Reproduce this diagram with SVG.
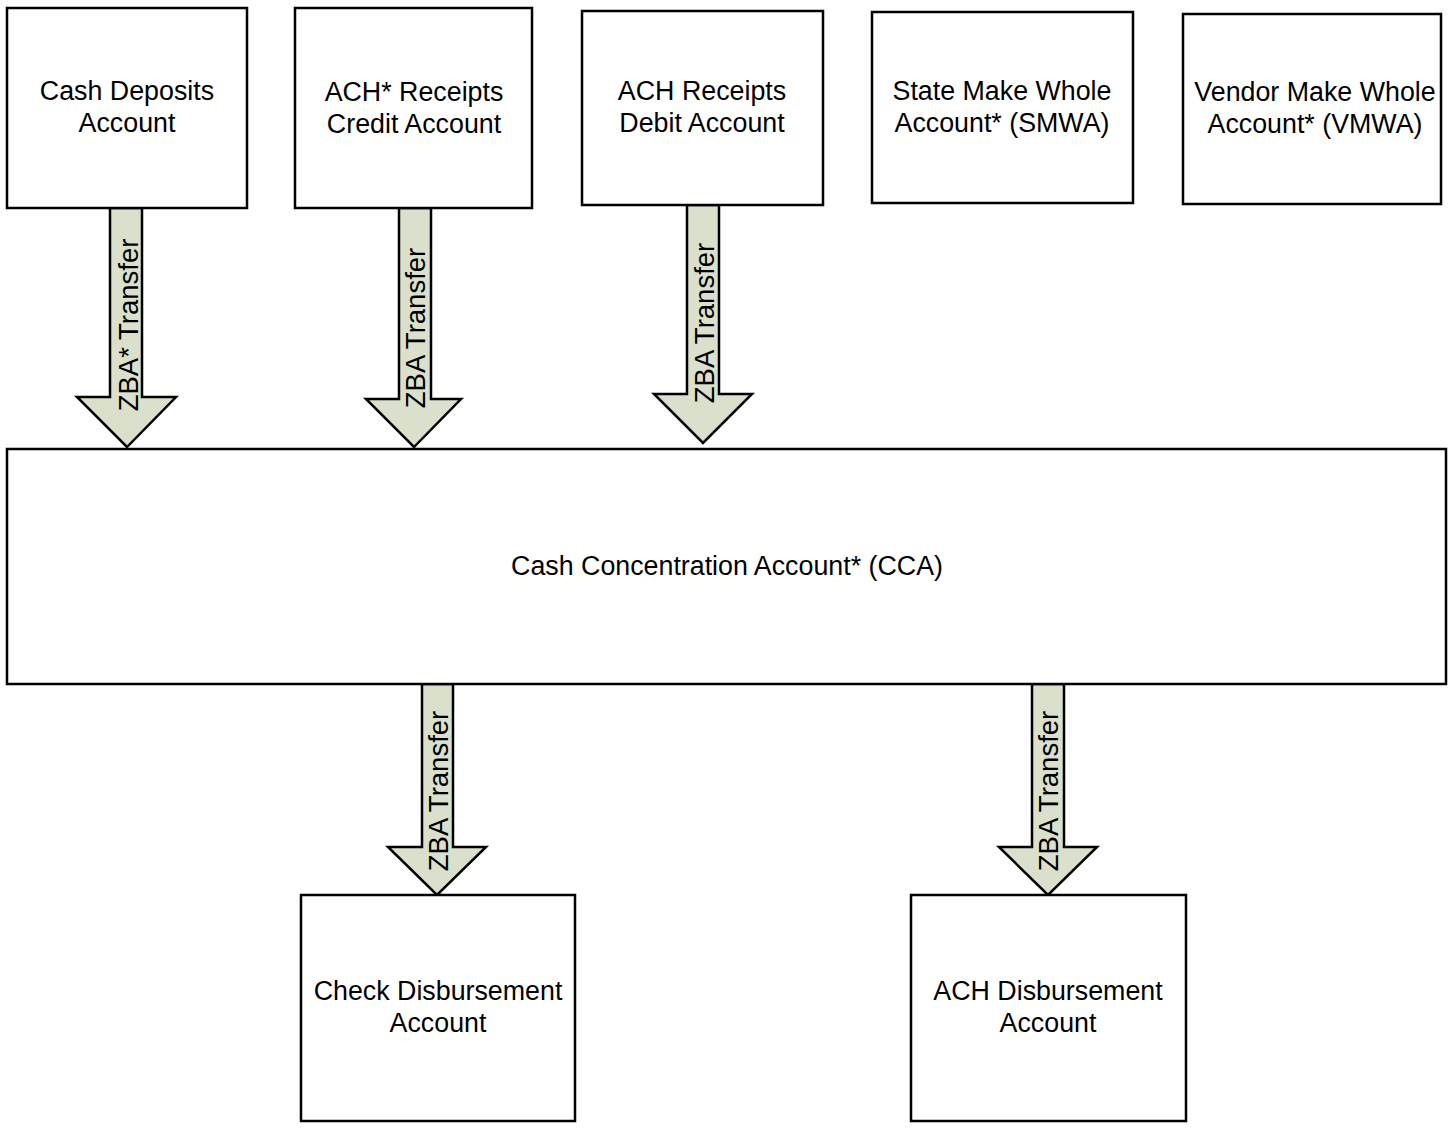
<svg xmlns="http://www.w3.org/2000/svg" width="1453" height="1132" viewBox="0 0 1453 1132">
<style>
.box{fill:#ffffff;stroke:#000000;stroke-width:2.5}
.arrow{fill:#dbe0cc;stroke:#000000;stroke-width:2.5;stroke-linejoin:miter}
.t{font-family:"Liberation Sans",Arial,sans-serif;font-size:26.8px;fill:#000000;text-anchor:middle}
.lt{font-family:"Liberation Sans",Arial,sans-serif;font-size:27.5px;fill:#000000;text-anchor:middle;dominant-baseline:central}
</style>
<rect width="1453" height="1132" fill="#ffffff"/>
<g id="connectors">
  <g id="arrow-cash-deposits">
    <polygon class="arrow" points="110,208 142,208 142,397 176,397 127,447 77,397 110,397"/>
    <text class="lt" transform="translate(128,325) rotate(-90)">ZBA* Transfer</text>
  </g>
  <g id="arrow-ach-credit">
    <polygon class="arrow" points="399,208 431,208 431,399 461,399 414,447 366,399 399,399"/>
    <text class="lt" transform="translate(415,328) rotate(-90)">ZBA Transfer</text>
  </g>
  <g id="arrow-ach-debit">
    <polygon class="arrow" points="687,205 719,205 719,394 752,394 703,443 654,394 687,394"/>
    <text class="lt" transform="translate(704,323) rotate(-90)">ZBA Transfer</text>
  </g>
  <g id="arrow-check">
    <polygon class="arrow" points="422,684 453,684 453,847 486,847 437,895 388,847 422,847"/>
    <text class="lt" transform="translate(438,791) rotate(-90)">ZBA Transfer</text>
  </g>
  <g id="arrow-ach-disb">
    <polygon class="arrow" points="1032,684 1064,684 1064,847 1097,847 1048,895 999,847 1032,847"/>
    <text class="lt" transform="translate(1048,791) rotate(-90)">ZBA Transfer</text>
  </g>
</g>
<g id="cash-deposits">
  <rect class="box" x="7" y="8" width="240" height="200"/>
  <text class="t" x="127" y="100">Cash Deposits</text>
  <text class="t" x="127" y="132">Account</text>
</g>
<g id="ach-receipts-credit">
  <rect class="box" x="295" y="8" width="237" height="200"/>
  <text class="t" x="414" y="101">ACH* Receipts</text>
  <text class="t" x="414" y="133">Credit Account</text>
</g>
<g id="ach-receipts-debit">
  <rect class="box" x="582" y="11" width="241" height="194"/>
  <text class="t" x="702" y="100">ACH Receipts</text>
  <text class="t" x="702" y="132">Debit Account</text>
</g>
<g id="smwa">
  <rect class="box" x="872" y="12" width="261" height="191"/>
  <text class="t" x="1002" y="100">State Make Whole</text>
  <text class="t" x="1002" y="132">Account* (SMWA)</text>
</g>
<g id="vmwa">
  <rect class="box" x="1183" y="14" width="258" height="190"/>
  <text class="t" x="1315" y="101">Vendor Make Whole</text>
  <text class="t" x="1315" y="133">Account* (VMWA)</text>
</g>
<g id="cca">
  <rect class="box" x="7" y="449" width="1439" height="235"/>
  <text class="t" x="727" y="575">Cash Concentration Account* (CCA)</text>
</g>
<g id="check-disbursement">
  <rect class="box" x="301" y="895" width="274" height="226"/>
  <text class="t" x="438" y="1000">Check Disbursement</text>
  <text class="t" x="438" y="1032">Account</text>
</g>
<g id="ach-disbursement">
  <rect class="box" x="911" y="895" width="275" height="226"/>
  <text class="t" x="1048" y="1000">ACH Disbursement</text>
  <text class="t" x="1048" y="1032">Account</text>
</g>
</svg>
